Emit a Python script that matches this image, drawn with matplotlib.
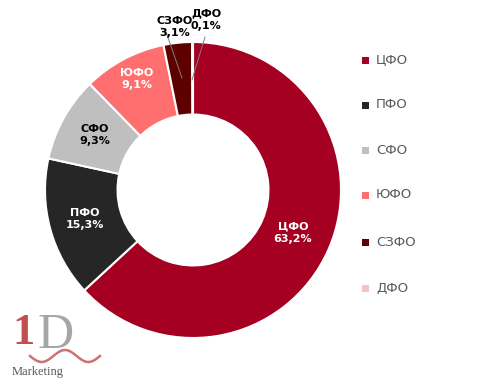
import matplotlib.pyplot as plt
import numpy as np

# regions and their share, %
regions = ['ЦФО', 'ПФО', 'СФО', 'ЮФО', 'СЗФО', 'ДФО']
shares = [63.2, 15.3, 9.3, 9.1, 3.1, 0.1]
share_labels = ['63,2%', '15,3%', '9,3%', '9,1%', '3,1%', '0,1%']
colors = ['#A50021', '#262626', '#BFBFBF', '#FF6F6F', '#5C0000', '#F2C4C4']
text_colors = ['white', 'white', 'black', 'white', 'black', 'black']

W, H = 493, 382
fig = plt.figure(figsize=(W / 100, H / 100), dpi=100)
ax = fig.add_axes([0, 0, 1, 1])

cx, cy, R = 193, H - 190, 148
wedges, _ = ax.pie(shares, colors=colors, startangle=90, counterclock=False,
                   center=(cx, cy), radius=R, frame=True,
                   wedgeprops=dict(width=R * 0.49, edgecolor='white', linewidth=1.5))
ax.set_xlim(0, W)
ax.set_ylim(0, H)
ax.axis('off')
ax.set_aspect('equal')

lbl_font = dict(fontsize=8, fontweight='bold', family=['Liberation Sans Narrow', 'DejaVu Sans'],
                linespacing=1.35, ha='center', va='center')

# inside labels (image coords)
inside = {0: (293, 233), 1: (85, 219), 2: (95, 135), 3: (137, 79)}
for i, (x, y) in inside.items():
    ax.text(x, H - y, regions[i] + '\n' + share_labels[i], color=text_colors[i], **lbl_font)

# outside labels with leader lines
ax.text(175, H - 27, regions[4] + '\n' + share_labels[4], color='black', **lbl_font)
ax.plot([161, 165, 182], [H - 28, H - 29, H - 78], color='#7F7F7F', lw=0.7)
ax.text(206, H - 20, regions[5] + '\n' + share_labels[5], color='black', **lbl_font)
ax.plot([205, 192], [H - 37, H - 80], color='#7F7F7F', lw=0.7)

# legend
leg_y = [60, 105, 150, 195, 242, 288]
for r, c, y in zip(regions, colors, leg_y):
    ax.add_patch(plt.Rectangle((362, H - y - 3.5), 7, 7, color=c, lw=0))
    ax.text(376, H - y, r, ha='left', va='center', fontsize=9.5, color='#595959')

# logo
ax.text(24, H - 333, '1', fontsize=32, color='#C0504D', family='Liberation Serif',
        ha='center', va='center', fontweight='bold')
ax.text(56, H - 336, 'D', fontsize=36, color='#A6A6A6', family='Liberation Serif',
        ha='center', va='center')
t = np.linspace(0, 1, 50)
ax.plot(30 + 70 * t, H - (356 + 6 * np.sin(t * 2 * np.pi * 1.5)), color='#C0504D', lw=1.8, alpha=0.8)
ax.text(12, H - 372, 'Marketing', fontsize=9, color='#595959', family='Liberation Serif',
        ha='left', va='center')

fig.savefig('out.png', dpi=100)
